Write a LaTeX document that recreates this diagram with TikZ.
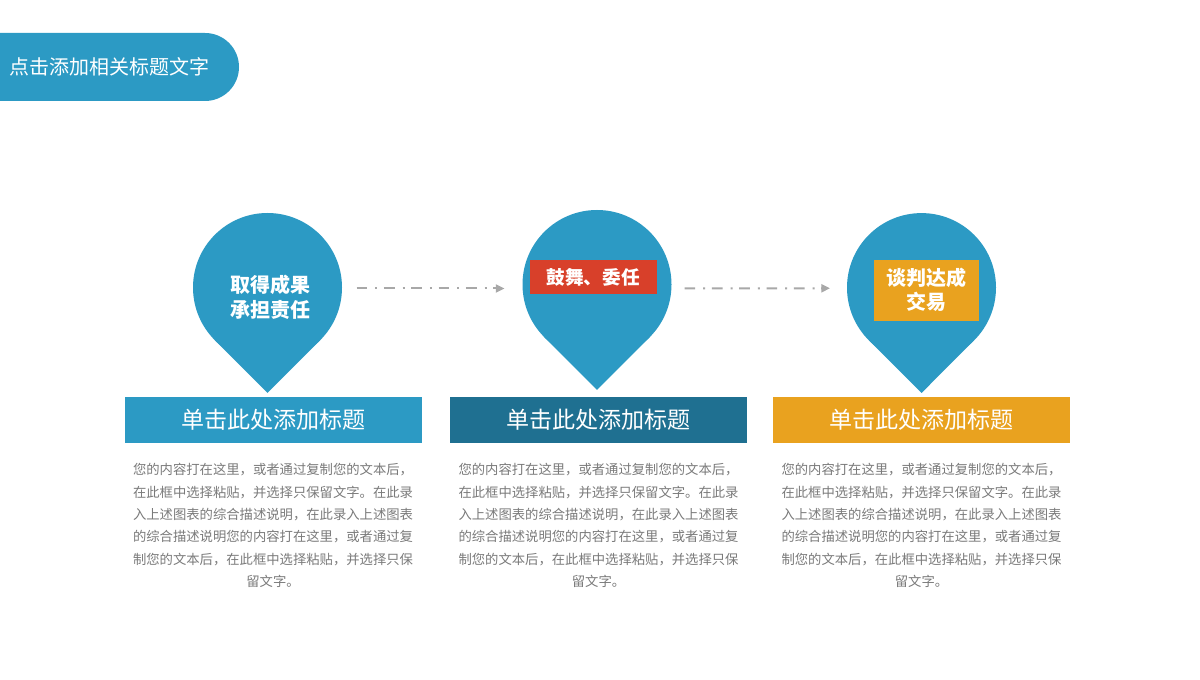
\documentclass[tikz,border=0pt]{standalone}
\usepackage{fontspec}
\setmainfont{Noto Sans CJK SC}
\usetikzlibrary{arrows.meta,calc}
\definecolor{pinblue}{HTML}{2C9AC4}
\definecolor{bardark}{HTML}{1F7091}
\definecolor{boxorange}{HTML}{E9A21F}
\definecolor{boxred}{HTML}{D8402A}
\definecolor{linegray}{HTML}{A8A8A8}
\definecolor{bodygray}{HTML}{7A7A7A}
\begin{document}
\begin{tikzpicture}[x=0.75pt,y=-0.75pt,
  pinhead/.style={circle,fill=pinblue,inner sep=0pt,outer sep=0pt,minimum size=111.75pt},
  bar/.style={rectangle,inner sep=0pt,minimum width=223pt,minimum height=34.5pt,text=white,font=\fontsize{17.3}{20}\selectfont},
  pintext/.style={text=white,align=center,font=\bfseries\fontsize{15}{18.7}\selectfont},
  tag/.style={rectangle,inner sep=0pt,text=white,align=center},
  body/.style={text=bodygray,align=center,inner sep=0pt,font=\fontsize{10}{16.7}\selectfont},
  conn/.style={draw=linegray,line width=1.5pt,dash pattern=on 8pt off 6pt on 1.5pt off 5pt,-{Triangle[length=6.5pt,width=6pt]}}
]
\useasboundingbox (0,0) rectangle (1200,680);
\fill[white] (0,0) rectangle (1200,680);
% title tab
\fill[pinblue] (0,33) -- (205,33) arc[start angle=-90,end angle=90,radius=34] -- (0,101) -- cycle;
\node[anchor=west,text=white,inner sep=0pt,font=\fontsize{15}{18}\selectfont] (title) at (9,67) {点击添加相关标题文字};
% pins
\node[pinhead] (p1) at (267.5,287.5) {};
\coordinate (t1) at (267.5,392.9);
\fill[pinblue] (p1.-135) -- (t1) -- (p1.-45) -- (p1.center) -- cycle;
\node[pinhead] (p2) at (597,284.5) {};
\coordinate (t2) at (597,389.9);
\fill[pinblue] (p2.-135) -- (t2) -- (p2.-45) -- (p2.center) -- cycle;
\node[pinhead] (p3) at (921.5,287.6) {};
\coordinate (t3) at (921.5,393);
\fill[pinblue] (p3.-135) -- (t3) -- (p3.-45) -- (p3.center) -- cycle;
% pin labels
\node[pintext] (l1) at (270,297.5) {取得成果\\承担责任};
\node[tag,fill=boxred,minimum width=95pt,minimum height=25.5pt,font=\bfseries\fontsize{14}{17}\selectfont] (l2) at (593.3,277) {鼓舞、委任};
\node[tag,fill=boxorange,minimum width=78.75pt,minimum height=45.5pt,font=\bfseries\fontsize{15}{18}\selectfont] (l3) at (926.8,290.3) {谈判达成\\交易};
% connectors
\draw[conn] ($(p1.east)+(14.5,1)$) -- ($(p2.west)+(-18,4)$);
\draw[conn] ($(p2.east)+(13,4)$) -- ($(p3.west)+(-17,0.7)$);
% bars
\node[bar,fill=pinblue] (b1) at (273.5,420) {单击此处添加标题};
\node[bar,fill=bardark] (b2) at (598.5,420) {单击此处添加标题};
\node[bar,fill=boxorange] (b3) at (921.5,420) {单击此处添加标题};
% body texts
\node[body] (d1) at (273,525.5) {您的内容打在这里，或者通过复制您的文本后，\\在此框中选择粘贴，并选择只保留文字。在此录\\入上述图表的综合描述说明，在此录入上述图表\\的综合描述说明您的内容打在这里，或者通过复\\制您的文本后，在此框中选择粘贴，并选择只保\\留文字。};
\node[body] (d2) at (598.5,525.5) {您的内容打在这里，或者通过复制您的文本后，\\在此框中选择粘贴，并选择只保留文字。在此录\\入上述图表的综合描述说明，在此录入上述图表\\的综合描述说明您的内容打在这里，或者通过复\\制您的文本后，在此框中选择粘贴，并选择只保\\留文字。};
\node[body] (d3) at (921.5,525.5) {您的内容打在这里，或者通过复制您的文本后，\\在此框中选择粘贴，并选择只保留文字。在此录\\入上述图表的综合描述说明，在此录入上述图表\\的综合描述说明您的内容打在这里，或者通过复\\制您的文本后，在此框中选择粘贴，并选择只保\\留文字。};
\end{tikzpicture}
\end{document}
